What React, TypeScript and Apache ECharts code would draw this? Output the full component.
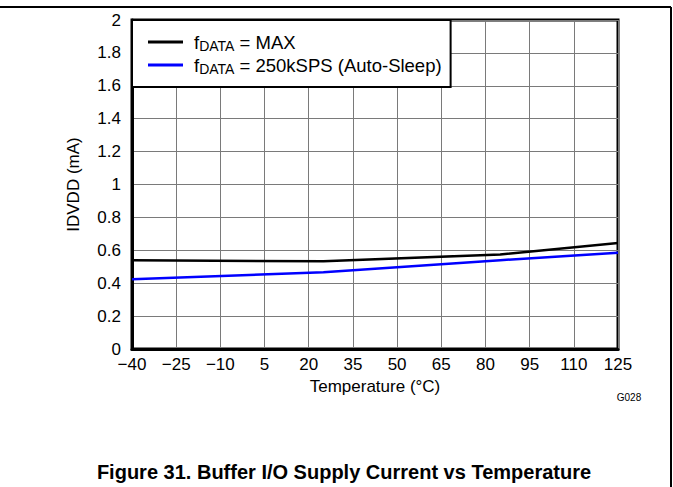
import React, { useEffect, useRef } from "react";
import * as echarts from "echarts";

const temperatures = [-40, 25, 85, 125];
const maxRateCurrent = [0.54, 0.533, 0.575, 0.645];
const autoSleepCurrent = [0.424, 0.466, 0.54, 0.585];
const seriesNames = ["fDATA = MAX", "fDATA = 250kSPS (Auto-Sleep)"];
const xTicks = { min: -40, max: 125, interval: 15 };
const yTicks = { min: 0, max: 2, interval: 0.2 };

const FONT = "Liberation Sans, Arial, sans-serif";

export default function App() {
  const ref = useRef<HTMLDivElement>(null);
  useEffect(() => {
    if (!ref.current) return;
    const chart = echarts.init(ref.current, null, { renderer: "svg" });
    const pair = (xs: number[], ys: number[]) => xs.map((x, i) => [x, ys[i]]);
    chart.setOption({
      animation: false,
      textStyle: { fontFamily: FONT },
      grid: {
        left: 132,
        top: 20,
        width: 486,
        height: 329,
        show: true,
        borderColor: "#000",
        borderWidth: 3,
        backgroundColor: "transparent",
      },
      legend: {
        left: 132,
        top: 20,
        orient: "vertical",
        backgroundColor: "#fff",
        borderColor: "#000",
        borderWidth: 2,
        borderRadius: 0,
        padding: [11, 9, 11, 16],
        itemGap: 1,
        itemWidth: 35,
        itemHeight: 3,
        icon: "rect",
        data: seriesNames,
        formatter: (name: string) => {
          const rest = name.replace("fDATA", "");
          return "{p|}{f|f}{sub|DATA}{f|" + rest + "}";
        },
        textStyle: {
          rich: {
            p: { width: 6 },
            f: { fontSize: 18.5, color: "#000", fontFamily: FONT, lineHeight: 20 },
            sub: { fontSize: 14, color: "#000", fontFamily: FONT, lineHeight: 20, padding: [8, 0, 0, 0] },
          },
        },
      },
      xAxis: {
        type: "value",
        min: xTicks.min,
        max: xTicks.max,
        interval: xTicks.interval,
        name: "Temperature (°C)",
        nameLocation: "middle",
        nameGap: 28,
        nameTextStyle: { fontSize: 17, color: "#000", fontFamily: FONT },
        axisLine: { show: true, onZero: false, lineStyle: { color: "#000", width: 3 } },
        axisTick: { show: false },
        axisLabel: {
          fontSize: 17,
          color: "#000",
          fontFamily: FONT,
          margin: 7,
          formatter: (v: number) => (v < 0 ? "\u2212" + Math.abs(v) : String(v)),
        },
        splitLine: { show: true, lineStyle: { color: "#7a7a7a", width: 1 } },
      },
      yAxis: {
        type: "value",
        min: yTicks.min,
        max: yTicks.max,
        interval: yTicks.interval,
        name: "IDVDD (mA)",
        nameLocation: "middle",
        nameGap: 50,
        nameTextStyle: { fontSize: 17, color: "#000", fontFamily: FONT },
        axisLine: { show: true, onZero: false, lineStyle: { color: "#000", width: 3 } },
        axisTick: { show: false },
        axisLabel: {
          fontSize: 17,
          color: "#000",
          fontFamily: FONT,
          margin: 11,
          formatter: (v: number) => String(Number(v.toFixed(1))),
        },
        splitLine: { show: true, lineStyle: { color: "#7a7a7a", width: 1 } },
      },
      series: [
        {
          name: seriesNames[0],
          type: "line",
          data: pair(temperatures, maxRateCurrent),
          symbol: "none",
          lineStyle: { color: "#000", width: 2.5 },
          itemStyle: { color: "#000" },
          z: 3,
        },
        {
          name: seriesNames[1],
          type: "line",
          data: pair(temperatures, autoSleepCurrent),
          symbol: "none",
          lineStyle: { color: "#0000ff", width: 2.5 },
          itemStyle: { color: "#0000ff" },
          z: 3,
        },
      ],
      graphic: [
        {
          type: "line",
          shape: { x1: 0, y1: 7, x2: 671, y2: 7 },
          style: { stroke: "#000", lineWidth: 2 },
        },
        {
          type: "line",
          shape: { x1: 671, y1: 7, x2: 671, y2: 487 },
          style: { stroke: "#000", lineWidth: 2 },
        },
        {
          type: "text",
          x: 629,
          y: 397,
          style: {
            text: "G028",
            fontSize: 10,
            fontFamily: FONT,
            fill: "#000",
            textAlign: "center",
            textVerticalAlign: "middle",
          },
        },
        {
          type: "text",
          x: 344,
          y: 472,
          style: {
            text: "Figure 31. Buffer I/O Supply Current vs Temperature",
            fontSize: 20,
            fontWeight: "bold",
            fontFamily: FONT,
            fill: "#000",
            textAlign: "center",
            textVerticalAlign: "middle",
          },
        },
      ],
    });
    return () => chart.dispose();
  }, []);
  return (
    <div
      ref={ref}
      style={{ position: "fixed", left: 0, top: 0, width: 673, height: 487, background: "#fff" }}
    />
  );
}
